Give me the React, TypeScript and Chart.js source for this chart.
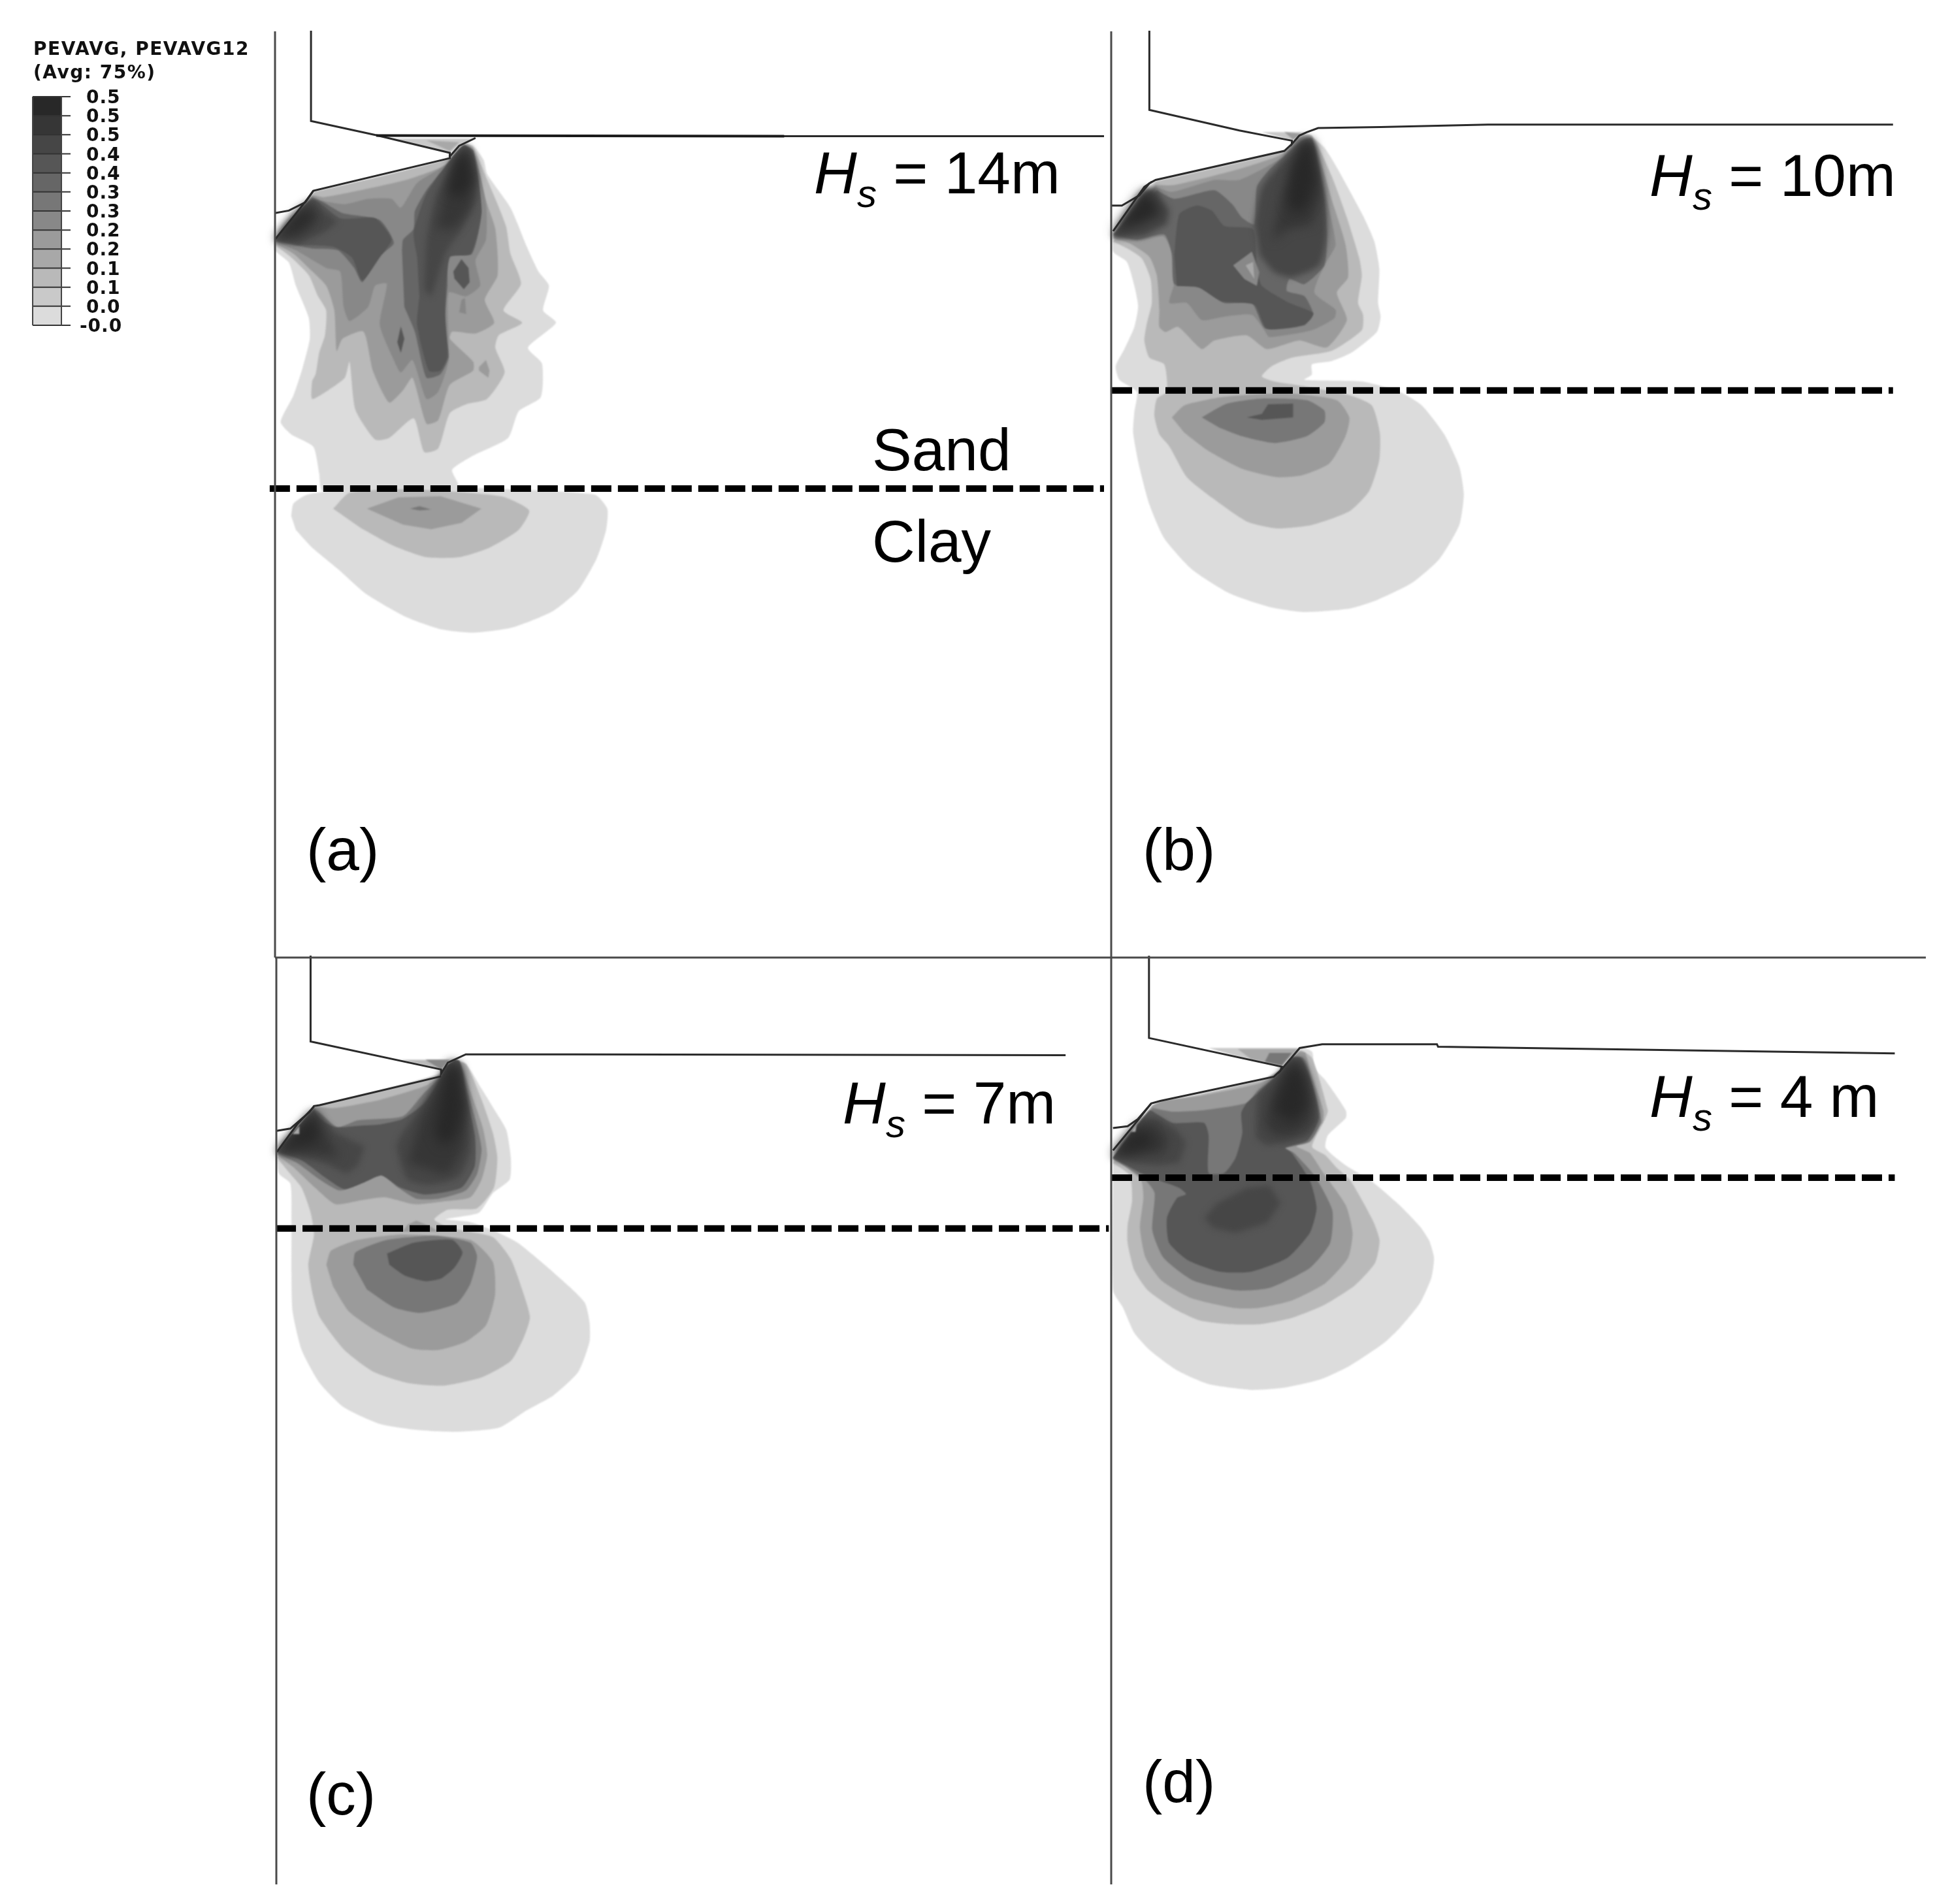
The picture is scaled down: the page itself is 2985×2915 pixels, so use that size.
import React, { useEffect, useRef } from "react";
import { Chart, registerables } from "chart.js";

Chart.register(...registerables);

type Pt = [number, number];
type Contour = [number, Pt[]];

const PAGE_W = 2985;
const PAGE_H = 2915;

const legendTitle = ["PEVAVG, PEVAVG12", "(Avg: 75%)"];
const legendLabels = ["0.5", "0.5", "0.5", "0.4", "0.4", "0.3", "0.3", "0.2", "0.2", "0.1", "0.1", "0.0", "-0.0"];
const bandColors = ["#dcdcdc", "#c9c9c9", "#b9b9b9", "#a8a8a8", "#9b9b9b", "#888888", "#777777", "#666666", "#565656", "#464646", "#363636", "#282828"];

// Contours per panel: [contour level, outline in panel units]
const contoursA: Contour[] = [
  [0, [[30,400],[30,430],[90,465],[120,530],[175,620],[180,680],[150,760],[110,840],[55,915],[100,950],[195,985],[220,1060],[235,1110],[800,1110],[815,1090],[790,1050],[880,1010],[1030,960],[1075,885],[1170,845],[1175,750],[1115,705],[1235,635],[1180,600],[1205,530],[1160,490],[1110,420],[1040,310],[940,215],[925,175],[880,135],[840,130],[780,165],[720,200],[200,262]]],
  [0, [[100,1180],[110,1145],[170,1120],[350,1105],[800,1100],[1400,1120],[1455,1160],[1450,1220],[1410,1300],[1330,1390],[1220,1450],[1050,1495],[880,1510],[740,1500],[590,1465],[420,1400],[300,1330],[190,1270],[120,1220]]],
  [2, [[280,1160],[350,1115],[600,1105],[1000,1125],[1120,1165],[1075,1220],[950,1270],[820,1297],[680,1297],[540,1265],[400,1215]]],
  [4, [[425,1160],[560,1128],[740,1125],[915,1160],[830,1200],[700,1218],[580,1205]]],
  [6, [[610,1160],[650,1153],[700,1162],[650,1165]]],
  [2, [[30,415],[100,450],[175,500],[215,560],[250,600],[245,670],[220,720],[205,780],[190,800],[190,850],[260,825],[330,790],[350,745],[375,880],[460,965],[520,960],[625,905],[670,1000],[730,990],[780,890],[850,865],[940,850],[1015,775],[975,705],[990,670],[1090,635],[1010,600],[1085,525],[1040,440],[1020,360],[940,230],[880,140],[840,130],[780,170],[200,265]]],
  [4, [[30,410],[110,440],[175,480],[250,530],[285,600],[295,715],[320,680],[410,660],[450,770],[520,860],[580,825],[620,790],[680,920],[730,910],[780,810],[880,770],[880,745],[780,680],[790,660],[890,665],[970,635],[930,570],[985,500],[975,370],[935,290],[880,150],[840,135],[760,190],[600,230],[400,260],[240,280],[190,275]]],
  [4, [[905,760],[935,740],[950,770],[945,790],[905,770]]],
  [5, [[30,405],[120,430],[250,480],[310,490],[325,590],[350,630],[430,590],[460,530],[510,525],[480,640],[540,740],[570,775],[620,740],[680,850],[730,830],[775,740],[775,550],[850,560],[910,530],[890,460],[935,400],[935,300],[880,150],[840,135],[760,190],[640,240],[570,310],[530,285],[430,285],[330,300],[230,290],[190,280]]],
  [5, [[830,570],[845,565],[850,610],[820,605]]],
  [7, [[30,405],[190,425],[300,430],[370,480],[405,520],[470,450],[540,410],[480,345],[320,325],[240,295],[190,282]]],
  [7, [[575,430],[580,400],[625,370],[630,320],[680,260],[760,195],[840,135],[880,150],[915,320],[875,440],[775,445],[770,530],[755,640],[775,730],[740,780],[680,790],[630,660],[585,590]]],
  [8, [[795,490],[830,455],[860,480],[865,520],[840,540],[800,510]]],
  [8, [[555,690],[570,645],[585,680],[570,720]]],
  [8, [[30,400],[190,288],[310,340],[460,340],[530,400],[480,450],[405,515],[360,450],[280,420],[130,415]]],
  [8, [[640,450],[625,380],[680,270],[760,195],[840,135],[880,160],[915,320],[870,440],[780,450],[760,600],[770,730],[740,770],[690,770],[640,640],[650,560]]],
  [9, [[30,400],[100,340],[190,285],[240,320],[300,350],[240,380],[130,410]]],
  [9, [[680,400],[720,280],[800,180],[850,135],[885,180],[890,280],[830,370],[760,440],[700,560],[670,540]]],
  [10, [[720,370],[760,260],[810,170],[850,140],[885,230],[870,310],[800,370]]],
  [11, [[770,270],[800,180],[850,140],[880,230],[840,280]]],
  [10, [[30,400],[110,340],[180,295],[225,340],[140,390]]],
  [11, [[30,400],[110,345],[165,310],[185,345],[110,375]]],
  [1, [[530,115],[885,115],[820,135],[780,155]]],
  [3, [[680,120],[820,125],[780,150]]],
];

const contoursB: Contour[] = [
  [0, [[5,395],[5,450],[60,480],[90,550],[105,610],[90,670],[50,735],[15,785],[30,825],[100,860],[90,920],[85,980],[110,1080],[150,1190],[210,1290],[320,1380],[470,1450],[630,1490],[770,1505],[950,1495],[1060,1470],[1200,1420],[1310,1350],[1390,1250],[1408,1160],[1390,1080],[1330,985],[1240,900],[1150,860],[1000,830],[770,825],[800,810],[800,780],[880,770],[960,745],[1060,685],[1075,640],[1065,600],[1070,500],[1050,420],[1005,345],[905,210],[850,145],[790,110],[750,110],[700,150],[165,245]]],
  [2, [[5,420],[60,440],[120,470],[155,530],[160,600],[140,660],[130,710],[150,760],[210,780],[220,860],[180,880],[170,930],[190,985],[230,1020],[300,1110],[400,1170],[540,1240],[660,1260],[800,1250],[950,1210],[1030,1150],[1070,1060],[1072,980],[1040,900],[950,870],[780,845],[650,830],[600,815],[640,785],[720,760],[880,740],[1000,680],[1005,635],[985,600],[1000,520],[990,470],[940,350],[880,230],[800,110],[750,110],[690,155],[175,245]]],
  [4, [[5,410],[70,425],[150,465],[180,520],[190,620],[190,670],[215,685],[265,670],[360,735],[410,710],[540,695],[620,735],[750,710],[860,730],[940,650],[900,570],[945,525],[935,430],[885,310],[800,115],[750,115],[680,165],[500,210],[250,255],[175,255]]],
  [4, [[240,935],[290,900],[450,875],[700,865],[900,885],[950,935],[935,990],[870,1070],[760,1105],[660,1110],[520,1085],[380,1030],[290,980]]],
  [6, [[360,935],[460,895],[600,880],[780,885],[850,915],[850,950],[780,990],[650,1010],[520,990],[430,965]]],
  [8, [[540,935],[600,925],[625,897],[725,895],[725,935],[600,942]]],
  [5, [[5,405],[100,420],[205,405],[235,440],[250,540],[230,600],[300,600],[360,650],[450,640],[560,635],[610,680],[630,700],[800,680],[890,645],[895,620],[810,570],[850,490],[895,430],[860,300],[800,120],[750,120],[680,175],[510,240],[410,240],[240,275],[175,260]]],
  [7, [[5,400],[100,415],[210,400],[240,455],[250,545],[340,550],[450,600],[560,600],[615,675],[790,650],[805,630],[770,580],[700,565],[710,530],[770,545],[850,490],[860,400],[850,300],[800,120],[760,125],[690,170],[630,210],[580,260],[570,370],[520,350],[480,310],[410,270],[250,295],[180,270]]],
  [8, [[250,460],[270,340],[340,315],[400,330],[450,375],[565,385],[580,500],[600,550],[710,600],[805,630],[770,665],[620,675],[570,605],[440,595],[350,555],[260,550]]],
  [5, [[485,490],[560,450],[590,510],[580,550],[530,530]]],
  [3, [[535,490],[565,480],[570,530]]],
  [9, [[570,370],[600,260],[700,170],[760,130],[800,125],[855,300],[860,400],[830,490],[720,525],[650,510],[590,460]]],
  [10, [[640,420],[680,290],[760,130],[800,130],[840,280],[800,370],[700,385]]],
  [11, [[700,300],[720,200],[770,125],[800,130],[820,240],[780,320],[730,340]]],
  [9, [[5,395],[130,265],[170,265],[230,330],[220,370],[130,405],[5,410]]],
  [11, [[5,395],[120,275],[160,280],[200,340],[120,370]]],
  [1, [[600,100],[780,100],[720,125]]],
  [4, [[690,100],[760,105],[725,122]]],
];

const contoursC: Contour[] = [
  [0, [[40,490],[50,540],[100,575],[105,700],[105,900],[110,1040],[150,1180],[230,1300],[340,1390],[500,1450],[650,1470],[830,1478],[1030,1462],[1150,1400],[1270,1345],[1380,1260],[1430,1150],[1430,1080],[1410,1010],[1340,950],[1230,870],[1110,790],[1000,745],[900,715],[790,705],[860,695],[940,680],[1000,610],[1075,560],[1080,480],[1060,380],[1010,310],[950,230],[880,140],[810,130],[770,175],[730,200],[230,290],[205,300],[150,360]]],
  [2, [[40,480],[100,540],[150,590],[190,680],[205,760],[180,870],[200,980],[230,1060],[340,1180],[470,1260],[620,1300],[780,1310],[950,1280],[1080,1220],[1140,1130],[1165,1060],[1130,960],[1080,850],[1000,770],[860,745],[790,730],[740,705],[800,670],[930,665],[1005,590],[1020,480],[1000,390],[950,270],[880,140],[810,130],[770,175],[230,290],[205,300]]],
  [4, [[40,470],[120,520],[210,590],[300,650],[420,635],[520,625],[650,650],[780,640],[900,625],[950,560],[975,470],[955,370],[900,240],[850,130],[810,130],[770,180],[700,220],[500,270],[300,300],[205,295]]],
  [4, [[260,870],[280,820],[400,780],[600,760],[900,780],[1000,860],[1010,980],[970,1090],[880,1150],[760,1180],[640,1175],[480,1110],[360,1040],[290,950]]],
  [4, [[620,725],[660,710],[720,730],[760,750],[600,750]]],
  [6, [[380,870],[390,825],[530,780],[740,765],[900,790],[930,840],[900,940],[840,1010],[680,1045],[560,1025],[440,960]]],
  [8, [[530,830],[650,790],[820,780],[865,825],[830,880],[770,920],[700,930],[610,910],[540,870]]],
  [6, [[40,465],[130,500],[230,560],[320,600],[420,570],[510,545],[580,590],[660,630],[760,630],[880,600],[930,540],[950,450],[925,350],[880,220],[850,130],[810,130],[770,185],[690,250],[600,330],[400,345],[310,370],[240,325],[205,300]]],
  [8, [[40,460],[150,490],[250,550],[340,595],[430,570],[505,545],[590,590],[700,615],[860,590],[920,510],[920,400],[880,250],[850,130],[810,130],[770,190],[700,280],[600,340],[500,360],[400,365],[300,370],[230,340],[205,305]]],
  [9, [[40,460],[130,470],[250,500],[350,540],[400,510],[430,440],[300,390],[205,305]]],
  [9, [[570,440],[620,560],[720,580],[850,550],[900,460],[890,330],[850,140],[810,135],[770,190],[680,300],[590,400]]],
  [10, [[40,460],[110,465],[220,470],[320,480],[260,400],[205,310],[150,370]]],
  [10, [[620,500],[680,340],[770,195],[810,135],[850,145],[880,300],[870,440],[800,540],[700,520]]],
  [11, [[40,460],[120,440],[200,430],[230,400],[200,320],[130,385]]],
  [11, [[740,390],[780,200],[810,140],[850,160],[870,300],[840,400],[780,440]]],
  [3, [[110,395],[140,365],[140,395]]],
  [2, [[590,125],[830,125],[800,140],[770,160]]],
  [5, [[700,125],[810,125],[770,160]]],
];

const contoursD: Contour[] = [
  [0, [[5,530],[5,1060],[50,1130],[100,1230],[170,1300],[290,1380],[430,1435],[620,1458],[760,1450],[930,1415],[1060,1360],[1210,1270],[1280,1210],[1370,1110],[1420,1010],[1432,930],[1410,860],[1370,805],[1280,720],[1150,620],[1040,560],[950,490],[960,440],[1040,370],[1040,340],[950,220],[900,170],[890,105],[835,90],[750,170],[720,200],[190,315],[130,370]]],
  [2, [[5,550],[80,600],[90,700],[70,800],[70,870],[100,980],[160,1060],[270,1130],[390,1180],[520,1195],[660,1195],[800,1170],[940,1120],[1080,1040],[1170,950],[1190,860],[1160,780],[1060,620],[1000,570],[950,520],[890,485],[950,370],[960,340],[890,130],[835,100],[750,175],[670,215],[190,320]]],
  [4, [[5,535],[60,565],[130,620],[140,690],[125,810],[150,930],[220,1020],[350,1090],[540,1130],[650,1130],[800,1100],[950,1030],[1050,930],[1070,830],[1040,720],[940,590],[880,510],[820,480],[935,390],[940,340],[880,180],[860,110],[835,105],[750,180],[660,230],[400,280],[230,300],[180,320]]],
  [6, [[5,530],[150,620],[190,670],[180,820],[230,930],[360,1020],[550,1060],[700,1050],[880,970],[970,870],[980,740],[900,600],[810,510],[770,490],[880,465],[930,380],[890,230],[850,130],[800,130],[750,190],[650,260],[600,310],[400,340],[270,345],[180,330]]],
  [8, [[5,530],[150,600],[300,650],[330,675],[290,690],[245,770],[255,870],[340,940],[480,985],[620,985],[780,930],[880,830],[910,730],[880,620],[800,510],[770,490],[870,460],[920,370],[890,240],[840,130],[800,130],[750,185],[650,270],[600,310],[575,350],[580,430],[550,530],[500,590],[430,590],[430,440],[410,390],[270,390],[200,355],[170,340],[130,380]]],
  [9, [[410,770],[470,710],[600,650],[700,640],[750,710],[690,790],[550,830],[450,810]]],
  [9, [[640,450],[650,280],[750,190],[800,135],[850,140],[900,290],[910,380],[870,440],[760,470],[690,480]]],
  [10, [[680,400],[700,300],[760,190],[800,140],[850,170],[890,300],[880,390],[800,440],[720,440]]],
  [11, [[720,340],[760,230],[810,145],[860,220],[870,330],[800,390]]],
  [9, [[5,530],[140,370],[200,370],[290,420],[330,470],[300,550],[200,560],[100,550]]],
  [10, [[5,520],[115,390],[190,390],[250,450],[230,510],[100,520]]],
  [11, [[5,515],[100,420],[170,430],[190,480],[70,510]]],
  [1, [[430,90],[835,90],[760,165],[560,125]]],
  [3, [[560,95],[830,95],[755,160],[620,135]]],
  [6, [[700,110],[800,110],[755,160],[680,145]]],
  [3, [[85,425],[110,395],[105,425]]],
];

// Outlines of seabed, spudcan and surface per panel
const outlinesA: Pt[][] = [
  [[185,-190],[185,65],[465,105],[780,155],[780,165],[820,135],[890,113]],
  [[1568,108],[3584,108]],
  [[30,325],[90,318],[160,295],[195,262],[780,170],[780,160]],
  [[30,400],[110,335],[170,285],[195,262]],
];
const heavySurfaceA: Pt[] = [[465,106],[2213,108]];
const outlinesB: Pt[][] = [
  [[150,-197],[150,35],[510,95],[720,125],[720,135],[750,110],[780,100],[825,88],[1075,85],[1505,78],[3125,78]],
  [[0,315],[40,315],[110,285],[150,250],[175,240],[690,155],[720,135]],
  [[5,390],[130,260],[160,245]],
];
const outlinesC: Pt[][] = [
  [[190,-254],[190,58],[770,160],[770,175],[800,135],[880,105],[1360,105],[3546,108]],
  [[40,383],[100,375],[185,315],[205,293],[230,290],[770,185]],
  [[40,460],[130,360],[205,295]],
];
const outlinesD: Pt[][] = [
  [[165,-279],[165,50],[755,165],[750,180],[835,90],[935,75],[1445,75],[1450,85],[3480,112]],
  [[5,410],[70,403],[115,375],[175,312],[215,302],[720,205],[750,180]],
  [[5,500],[115,380],[175,312]],
];

const interfaceA: Pt[] = [[8,1103],[3584,1103]];
const interfaceB: Pt[] = [[0,856],[3125,856]];
const interfaceC: Pt[] = [[35,738],[3738,738]];
const interfaceD: Pt[] = [[0,609],[3480,609]];

// Frame lines in page units
const frameLines: Pt[][] = [
  [[421,48],[421,1466]],
  [[1701,48],[1701,2885]],
  [[421,1466],[2948,1466]],
  [[423,1466],[423,2885]],
];

const panelLabels: [string, number, number][] = [
  ["(a)", 469, 1332], ["(b)", 1749, 1332], ["(c)", 469, 2778], ["(d)", 1749, 2759],
];
const waveLabels: [string, number, number][] = [
  [" = 14m", 1246, 296], [" = 10m", 2525, 300], [" = 7m", 1290, 1720], [" = 4 m", 2525, 1710],
];
const layerLabels: [string, number, number][] = [["Sand", 1335, 720], ["Clay", 1335, 860]];

const legendTop = 148;
const legendStep = 29.17;
const legendLeft = 50;
const legendRight = 94;
const tickEnd = 108;

const panels = [
  { x0: 410, y0: 150, w: 560, h: 850, contours: contoursA, outlines: outlinesA, iface: interfaceA },
  { x0: 1702, y0: 150, w: 600, h: 820, contours: contoursB, outlines: outlinesB, iface: interfaceB },
  { x0: 410, y0: 1570, w: 540, h: 660, contours: contoursC, outlines: outlinesC, iface: interfaceC },
  { x0: 1702, y0: 1570, w: 540, h: 600, contours: contoursD, outlines: outlinesD, iface: interfaceD },
];

const FONT = '"Liberation Sans", Arial, sans-serif';
const LEGEND_FONT = '"DejaVu Sans", Verdana, sans-serif';

const softenPlugin = {
  id: "softenContours",
  beforeDatasetsDraw(chart: any) {
    const first = chart.data.datasets[0];
    chart.ctx.save();
    chart.ctx.filter = first?.soft ? `blur(${first.soft}px)` : "none";
  },
  afterDatasetDraw(chart: any, args: any) {
    const next = chart.data.datasets[args.index + 1];
    chart.ctx.filter = next?.soft ? `blur(${next.soft}px)` : "none";
  },
  afterDatasetsDraw(chart: any) {
    chart.ctx.filter = "none";
    chart.ctx.restore();
  },
};

const textPlugin = {
  id: "figureText",
  afterDraw(chart: any) {
    const { ctx, scales } = chart;
    const X = (v: number) => scales.x.getPixelForValue(v);
    const Y = (v: number) => scales.y.getPixelForValue(v);
    ctx.save();
    ctx.fillStyle = "#000";
    ctx.textBaseline = "alphabetic";
    ctx.textAlign = "left";
    ctx.font = `91px ${FONT}`;
    panelLabels.forEach(([t, x, y]) => ctx.fillText(t, X(x), Y(y)));
    layerLabels.forEach(([t, x, y]) => ctx.fillText(t, X(x), Y(y)));
    waveLabels.forEach(([t, x, y]) => {
      ctx.font = `italic 91px ${FONT}`;
      ctx.fillText("H", X(x), Y(y));
      ctx.font = `italic 60px ${FONT}`;
      ctx.fillText("s", X(x + 66), Y(y + 21));
      ctx.font = `91px ${FONT}`;
      ctx.fillText(t, X(x + 96), Y(y));
    });
    ctx.fillStyle = "#111";
    ctx.letterSpacing = "1.5px";
    ctx.font = `bold 28px ${LEGEND_FONT}`;
    legendTitle.forEach((t, i) => ctx.fillText(t, X(51), Y(84 + i * 36)));
    ctx.letterSpacing = "1px";
    legendLabels.forEach((t, i) => ctx.fillText(t, X(t.startsWith("-") ? 122 : 132), Y(legendTop + i * legendStep + 10)));
    ctx.restore();
  },
};

function softnessOf(level: number) {
  if (level >= 11) return 9;
  if (level >= 10) return 8;
  if (level >= 9) return 5;
  return 1;
}

function polygon(points: Pt[], color: string, soft = 0) {
  return {
    data: points.map(([x, y]) => ({ x, y })),
    showLine: true,
    fill: "shape",
    backgroundColor: color,
    borderWidth: 0,
    pointRadius: 0,
    tension: points.length > 8 ? 0.2 : 0,
    soft,
  };
}

function polyline(points: Pt[], color: string, width: number, dash: number[] = []) {
  return {
    data: points.map(([x, y]) => ({ x, y })),
    showLine: true,
    fill: false,
    borderColor: color,
    borderWidth: width,
    borderDash: dash,
    pointRadius: 0,
    tension: 0,
    soft: 0,
  };
}

function buildDatasets() {
  const list: any[] = [];
  panels.forEach((p, index) => {
    const map = ([x, y]: Pt): Pt => [p.x0 + (x / 1568) * p.w, p.y0 + (y / 1568) * p.h];
    p.contours.forEach(([level, pts]) => list.push(polygon(pts.map(map), bandColors[level], softnessOf(level))));
    p.outlines.forEach((o) => list.push(polyline(o.map(map), "#2a2a2a", 3)));
    if (index === 0) list.push(polyline(heavySurfaceA.map(map), "#1a1a1a", 4));
    list.push(polyline(p.iface.map(map), "#000", 10, [31, 10]));
  });
  frameLines.forEach((l) => list.push(polyline(l, "#4a4a4a", 3)));
  legendLabels.slice(0, -1).forEach((_, i) => {
    const top = legendTop + i * legendStep;
    const bottom = top + legendStep;
    list.push(polygon([[legendLeft, top], [legendRight, top], [legendRight, bottom], [legendLeft, bottom]], bandColors[bandColors.length - 1 - i]));
  });
  legendLabels.forEach((_, i) => {
    const y = legendTop + i * legendStep;
    list.push(polyline([[legendLeft, y], [tickEnd, y]], "#333", 2));
  });
  const legendBottom = legendTop + legendStep * (legendLabels.length - 1);
  list.push(polyline([[legendLeft, legendTop], [legendLeft, legendBottom]], "#444", 2));
  list.push(polyline([[legendRight, legendTop], [legendRight, legendBottom]], "#444", 2));
  return list.map((d, i) => ({ ...d, order: list.length - i, clip: false }));
}

export default function App() {
  const ref = useRef<HTMLCanvasElement | null>(null);
  useEffect(() => {
    document.body.style.margin = "0";
    document.body.style.background = "#fff";
    const chart = new Chart(ref.current as HTMLCanvasElement, {
      type: "scatter",
      data: { datasets: buildDatasets() },
      options: {
        animation: false,
        responsive: false,
        devicePixelRatio: 1,
        layout: { padding: 0 },
        plugins: { legend: { display: false }, tooltip: { enabled: false } },
        scales: {
          x: { type: "linear", display: false, min: 0, max: PAGE_W },
          y: { type: "linear", display: false, reverse: true, min: 0, max: PAGE_H },
        },
      } as any,
      plugins: [softenPlugin, textPlugin],
    } as any);
    return () => chart.destroy();
  }, []);
  return <canvas ref={ref} width={PAGE_W} height={PAGE_H} style={{ display: "block" }} />;
}
